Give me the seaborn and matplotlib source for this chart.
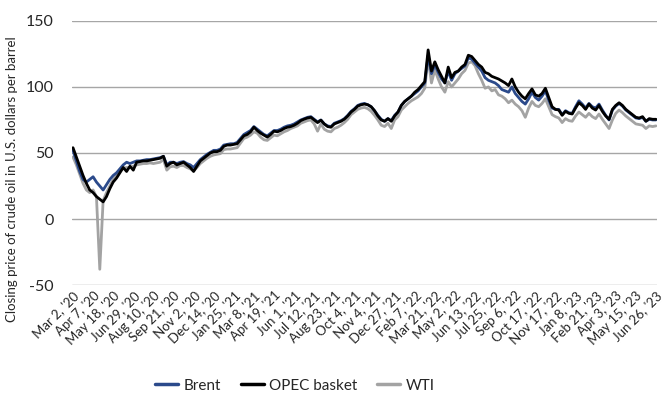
import numpy as np
import pandas as pd
import matplotlib
matplotlib.use("Agg")
import matplotlib.pyplot as plt
import seaborn as sns

# weekly closing prices, Mar 2020 - Jun 2023 (USD per barrel)
tick_labels = ["Mar 2, '20", "Apr 7, '20", "May 18, '20", "Jun 29, '20", "Aug 10, '20",
               "Sep 21, '20", "Nov 2, '20", "Dec 14, '20", "Jan 25, '21", "Mar 8, '21",
               "Apr 19, '21", "Jun 1, '21", "Jul 12, '21", "Aug 23, '21", "Oct 4, '21",
               "Nov 4, '21", "Dec 27, '21", "Feb 7, '22", "Mar 21, '22", "May 2, '22",
               "Jun 13, '22", "Jul 25, '22", "Sep 6, '22", "Oct 17, '22", "Nov 17, '22",
               "Jan 8, '23", "Feb 21, '23", "Apr 3, '23", "May 15, '23", "Jun 26, '23"]

brent = [52, 44, 36, 30, 28, 30, 32, 28, 25, 22,
         26, 30, 33, 35, 38, 41, 43, 42, 43, 44,
         44, 44.5, 45, 45, 45.5, 46, 46.5, 47.5, 41, 43,
         43, 42, 43, 43.5, 42, 41, 39, 42, 45, 47,
         49, 50.5, 52, 52, 53, 56, 56.5, 57, 57, 58,
         61, 64, 65.5, 67, 70, 68, 66, 64, 63, 65,
         67, 67, 68, 69.5, 70.5, 71, 72, 73.5, 75, 76,
         77, 77.5, 75.5, 73.5, 75, 72, 70.5, 70, 72.5, 73.5,
         74.5, 76, 78.5, 81.5, 83.5, 86, 87, 87.5, 86.5, 85,
         82, 78.5, 75.5, 74, 76, 74.5, 78.5, 81, 86, 89,
         91, 93, 95, 97, 100, 103, 124, 110, 117, 111,
         106, 103, 112, 105, 110, 112, 114, 116, 122, 121,
         118, 115, 112, 107, 105, 104, 103, 101, 98, 97,
         96, 100, 95, 92, 89, 87, 91, 96, 92, 90,
         93, 97, 90, 84, 83, 83, 79, 82, 80.5, 80,
         85, 89.5, 87, 84, 87.5, 85, 84, 87, 82.5, 78.5,
         75, 82.5, 85.5, 87.5, 85.5, 82.5, 80.5, 78.5, 76.5, 76,
         77, 74, 75.5, 75, 75]

opec = [54, 47, 40, 33, 27, 22, 20, 17, 15, 13,
        17, 23, 28, 31, 35, 39, 36, 40, 37, 43,
        43.5, 44, 44, 44.5, 45, 45.5, 46, 47.5, 40, 42,
        43, 41, 42, 43, 41, 39, 36, 40, 44, 46,
        48, 50, 51, 51, 52, 55, 56, 56, 56.5, 57,
        60, 63, 64, 66, 69.5, 67, 65, 63.5, 62, 64,
        66.5, 66, 67, 68.5, 69.5, 70, 71, 72.5, 74.5, 75.6,
        76.5, 77, 75, 73, 74.8, 72, 70, 69.5, 72, 73,
        74, 75.6, 78, 81, 83, 85.5, 86.5, 87, 86.5, 85,
        82, 78, 75, 74, 76, 74, 78, 81, 86, 89,
        91, 93, 96, 98, 101, 104, 128, 112, 119, 113,
        108, 103, 115, 107, 111, 112, 115, 117, 124, 123,
        120, 117, 115, 111, 110, 108, 107, 106, 104.5, 103,
        101, 106, 100, 96, 93, 91, 95, 98.5, 94, 93,
        95, 99, 92, 85, 83, 82.5, 78.5, 81.5, 80, 79.5,
        84, 88, 86, 83, 87, 84, 82.5, 86, 81.5, 78,
        75.5, 83, 86, 88, 86, 83, 81, 79, 77, 76.5,
        77.5, 74, 76, 75.5, 75.5]

wti = [47, 41, 34, 27, 22, 20, 22, 17, -38, 14,
       20, 25, 30, 33, 36, 38.5, 39, 39, 40, 41,
       41.5, 42, 42, 42.5, 42, 42.5, 43, 45, 37, 39.5,
       40, 39, 40.5, 40.5, 39, 38, 36.5, 39, 42, 44,
       46, 47.5, 48.5, 49, 49.5, 52.5, 53, 53, 53.5, 54,
       57.5, 61, 62, 63.5, 66, 65, 62, 60, 59.5, 61.5,
       63.5, 63, 64.5, 66, 67, 68.5, 69.5, 70.5, 72.5, 73.5,
       74.5, 75, 72, 66.5, 72, 68, 66.5, 66, 68.5, 69.5,
       71, 73, 75.5, 79, 81, 83, 84, 84.5, 83.5, 81.5,
       78.5, 75, 71, 70, 72.5, 68.5, 75, 77.5, 82.5, 85,
       87.5, 89.5, 91, 92.5, 95, 99, 122, 103, 113, 106,
       100, 96, 104, 100, 103, 106, 110, 112.5, 118, 119,
       116, 110, 105, 99, 100, 97, 98, 94, 93, 91,
       88, 90, 87, 85, 82, 77, 84, 89, 86, 85,
       87.5, 91, 85, 79, 77.5, 76.5, 73, 76, 74.5, 74,
       78, 81, 79, 77, 80, 77.5, 76, 79.5, 75.5, 72,
       68.5, 75, 80, 82.5, 80.5, 78, 76, 74, 72, 71.5,
       71, 68.5, 70.5, 70, 70.5]

series_names = ["Brent", "OPEC basket", "WTI"]
colors = {"Brent": "#2b4a8b", "OPEC basket": "#000000", "WTI": "#a3a3a3"}

week = np.arange(len(opec))
df = pd.DataFrame({"week": week, "Brent": brent, "OPEC basket": opec, "WTI": wti})
long_df = df.melt(id_vars="week", var_name="series", value_name="price")

sns.set_style("white")
plt.rcParams["font.family"] = ["Lato", "DejaVu Sans"]
plt.rcParams["axes.unicode_minus"] = False

fig = plt.figure(figsize=(6.64, 4.01), dpi=100)
ax = fig.add_axes([0.1084, 0.289, 0.881, 0.659])

sns.lineplot(data=long_df, x="week", y="price", hue="series", hue_order=series_names,
             palette=colors, linewidth=2.0, ax=ax, legend=True)

# put OPEC on top, WTI at the back
for line, z in zip(ax.get_lines()[:3], [2, 3, 1]):
    line.set_zorder(z)

ax.set_ylim(-50, 150)
ax.set_yticks([-50, 0, 50, 100, 150])
ax.set_xlim(-0.3, len(opec) - 0.7)
ax.set_xticks(week[::6])
ax.set_xticklabels(tick_labels, rotation=45, ha="right", rotation_mode="anchor", fontsize=9.5)
ax.tick_params(axis="y", labelsize=11.5, pad=13, length=0)
ax.tick_params(axis="x", pad=3, length=0)

ax.grid(axis="y", color="#a6a6a6", linewidth=1.0)
ax.grid(axis="x", visible=False)
for s in ax.spines.values():
    s.set_visible(False)

ax.set_xlabel("")
ax.set_ylabel("Closing price of crude oil in U.S. dollars per barrel", fontsize=9.5)
ax.yaxis.set_label_coords(-0.093, 0.40)

handles, labels = ax.get_legend_handles_labels()
ax.legend(handles, labels, loc="center", bbox_to_anchor=(0.381, -0.38), ncol=3,
          frameon=False, fontsize=11, handlelength=1.5, columnspacing=1.3, handletextpad=0.35)
for lh in ax.get_legend().get_lines():
    lh.set_linewidth(2.5)

fig.savefig("out.png", dpi=100)
